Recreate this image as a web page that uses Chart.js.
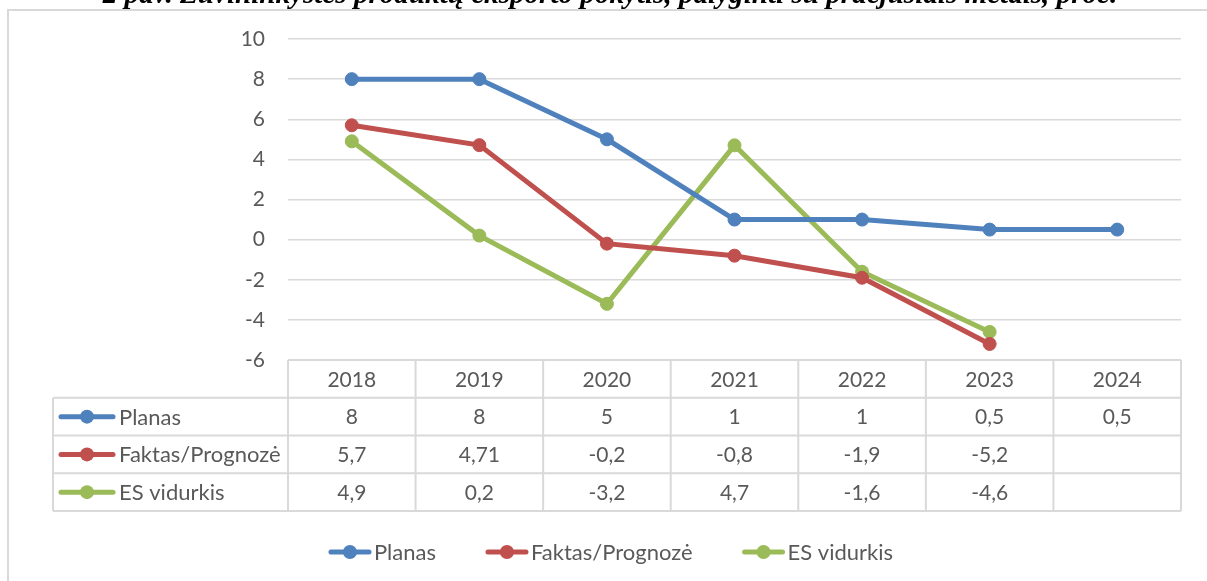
<!DOCTYPE html>
<html><head><meta charset="utf-8">
<script src="https://cdn.jsdelivr.net/npm/chart.js@4.4.1/dist/chart.umd.min.js"></script>
<style>html,body{margin:0;padding:0;background:#fff;overflow:hidden}canvas{display:block}</style>
</head><body>
<canvas id="c" width="1207" height="581"></canvas>
<script>
const titleText = '2 pav. Žuvininkystės produktų eksporto pokytis, palyginti su praėjusiais metais, proc.';
const years = ['2018','2019','2020','2021','2022','2023','2024'];
const seriesNames = ['Planas','Faktas/Prognozė','ES vidurkis'];
const planas = [8, 8, 5, 1, 1, 0.5, 0.5];
const faktas = [5.7, 4.71, -0.2, -0.8, -1.9, -5.2, null];
const esVidurkis = [4.9, 0.2, -3.2, 4.7, -1.6, -4.6, null];
const yMin = -6, yMax = 10, yStep = 2;

const colors = ['#4f81bd', '#c0504d', '#9bbb59'];
const TEXT = '#595959';
const GRID = '#d9d9d9';
const FAMILY = 'Lato, "Open Sans", sans-serif';
const NUM_SIZE = 21;
const LABEL_SIZE = 22;
const allSeries = [planas, faktas, esVidurkis];

function fmt(v) { return v == null ? '' : String(v).replace('.', ','); }

function drawMarker(ctx, x0, y, len, color) {
  ctx.save();
  ctx.strokeStyle = color; ctx.fillStyle = color;
  ctx.lineWidth = 5; ctx.lineCap = 'round';
  ctx.beginPath(); ctx.moveTo(x0 + 2, y); ctx.lineTo(x0 + len - 2, y); ctx.stroke();
  ctx.beginPath(); ctx.arc(x0 + len / 2, y, 7, 0, Math.PI * 2); ctx.fill();
  ctx.restore();
}

const extras = {
  id: 'extras',
  beforeDraw(chart) {
    const ctx = chart.ctx;
    ctx.save();
    ctx.fillStyle = '#fff'; ctx.fillRect(0, 0, chart.width, chart.height);
    ctx.strokeStyle = GRID; ctx.lineWidth = 2;
    ctx.beginPath(); ctx.moveTo(8, chart.height + 5); ctx.lineTo(8, 10); ctx.lineTo(chart.width + 5, 10); ctx.stroke();
    ctx.font = 'italic bold 100px "Liberation Serif", "DejaVu Serif", serif';
    const w = ctx.measureText(titleText).width;
    const size = 100 * 1015 / w;
    ctx.font = 'italic bold ' + size.toFixed(2) + 'px "Liberation Serif", "DejaVu Serif", serif';
    ctx.fillStyle = '#000'; ctx.textAlign = 'center'; ctx.textBaseline = 'alphabetic';
    ctx.fillText(titleText, 610, 3);
    ctx.restore();
  },
  afterDraw(chart) {
    const ctx = chart.ctx;
    const xs = chart.scales.x, area = chart.chartArea;
    const n = years.length;
    const band = xs.getPixelForValue(1) - xs.getPixelForValue(0);
    const top = area.bottom;
    const rowH = 37.75;
    const tableLeft = 53;
    const right = xs.getPixelForValue(n - 1) + band / 2;
    const bottom = top + rowH * 4;
    ctx.save();
    ctx.strokeStyle = GRID; ctx.lineWidth = 2;
    ctx.beginPath();
    ctx.moveTo(xs.getPixelForValue(0) - band / 2, top); ctx.lineTo(right, top);
    for (let r = 1; r <= 4; r++) { ctx.moveTo(tableLeft, top + r * rowH); ctx.lineTo(right, top + r * rowH); }
    ctx.moveTo(tableLeft, top + rowH); ctx.lineTo(tableLeft, bottom);
    for (let i = 0; i <= n; i++) {
      const bx = xs.getPixelForValue(0) - band / 2 + i * band;
      ctx.moveTo(bx, top); ctx.lineTo(bx, bottom);
    }
    ctx.stroke();

    const numFont = NUM_SIZE + 'px ' + FAMILY;
    const labFont = LABEL_SIZE + 'px ' + FAMILY;
    ctx.font = numFont;
    ctx.fillStyle = TEXT; ctx.textBaseline = 'middle'; ctx.textAlign = 'center';
    years.forEach((y, i) => ctx.fillText(y, xs.getPixelForValue(i), top + rowH / 2 + 1));
    allSeries.forEach((s, r) => {
      const cy = top + rowH * (r + 1.5) + 1;
      ctx.font = numFont; ctx.textAlign = 'center'; ctx.fillStyle = TEXT;
      s.forEach((v, i) => ctx.fillText(fmt(v), xs.getPixelForValue(i), cy));
      drawMarker(ctx, tableLeft + 6, cy - 1, 56, colors[r]);
      ctx.font = labFont; ctx.textAlign = 'left'; ctx.fillStyle = TEXT;
      ctx.fillText(seriesNames[r], tableLeft + 66, cy);
    });

    // bottom legend
    ctx.font = labFont;
    const ly = 552;
    const mLen = 42, gapT = 3, gapItem = 50;
    const widths = seriesNames.map(s => mLen + gapT + ctx.measureText(s).width);
    const total = widths.reduce((a, b) => a + b, 0) + gapItem * (widths.length - 1);
    let lx = 611 - total / 2;
    seriesNames.forEach((s, r) => {
      drawMarker(ctx, lx, ly, mLen, colors[r]);
      ctx.textAlign = 'left'; ctx.fillStyle = TEXT;
      ctx.fillText(s, lx + mLen + gapT, ly + 1);
      lx += widths[r] + gapItem;
    });
    ctx.restore();
  }
};

new Chart(document.getElementById('c').getContext('2d'), {
  type: 'line',
  data: {
    labels: years,
    datasets: allSeries.map((s, i) => ({
      label: seriesNames[i], data: s,
      borderColor: colors[i], backgroundColor: colors[i],
      pointBackgroundColor: colors[i], pointBorderColor: colors[i],
      borderWidth: 5, pointRadius: 6.5, pointBorderWidth: 1,
      tension: 0, fill: false
    }))
  },
  options: {
    responsive: false, animation: false,
    layout: { padding: { left: 0, top: 39, right: 26, bottom: 221 } },
    plugins: { legend: { display: false }, tooltip: { enabled: false }, title: { display: false } },
    scales: {
      x: { display: false, offset: true },
      y: {
        min: yMin, max: yMax,
        ticks: { stepSize: yStep, color: TEXT, font: { family: FAMILY, size: NUM_SIZE }, padding: 23 },
        grid: { color: GRID, lineWidth: 1.5, drawTicks: false },
        border: { display: false },
        afterFit(s) { s.width = 288; }
      }
    }
  },
  plugins: [extras]
});
</script>
</body></html>
